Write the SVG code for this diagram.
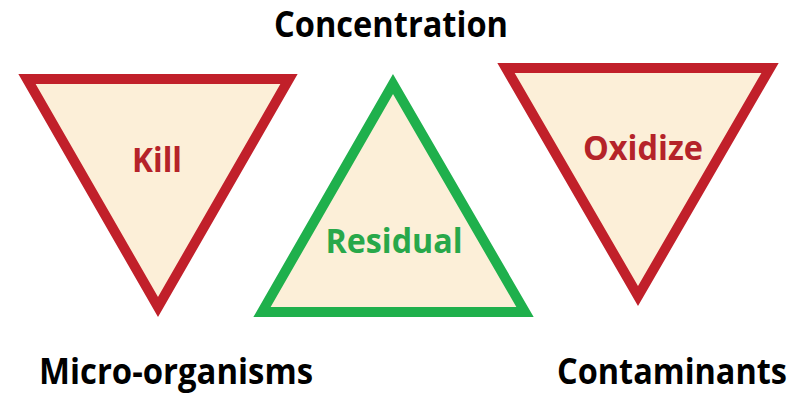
<svg xmlns="http://www.w3.org/2000/svg" width="800" height="404" viewBox="0 0 800 404">
<style>
.tri{fill:#FCEFD8;stroke-width:10;stroke-linejoin:miter;stroke-miterlimit:10}
.red{stroke:#C1202A}
.green{stroke:#1FB04C}
.t{font-family:"Open Sans","Noto Sans","Liberation Sans",sans-serif;font-weight:bold;text-anchor:middle}
.lbl{fill:#000;font-size:36px}
.in{font-size:34px}
</style>
<rect width="800" height="404" fill="#fff"/>
<g id="kill">
<polygon class="tri red" points="27,79 289,79 158,307"/>
<text class="t in" x="157" y="172" fill="#B52329" textLength="50" lengthAdjust="spacingAndGlyphs">Kill</text>
</g>
<g id="residual">
<polygon class="tri green" points="393,84 262,312 525,312"/>
<text class="t in" x="394" y="253" fill="#28A84A" textLength="137" lengthAdjust="spacingAndGlyphs">Residual</text>
</g>
<g id="oxidize">
<polygon class="tri red" points="506,68 770,68 638,296"/>
<text class="t in" x="643" y="160" fill="#B52329" textLength="120" lengthAdjust="spacingAndGlyphs">Oxidize</text>
</g>
<g id="concentration">
<text class="t lbl" x="391" y="37" textLength="234" lengthAdjust="spacingAndGlyphs">Concentration</text>
</g>
<g id="micro-organisms">
<text class="t lbl" x="176" y="384" textLength="274" lengthAdjust="spacingAndGlyphs">Micro-organisms</text>
</g>
<g id="contaminants">
<text class="t lbl" x="672" y="384" textLength="230" lengthAdjust="spacingAndGlyphs">Contaminants</text>
</g>
<g id="connectors"></g>
</svg>
